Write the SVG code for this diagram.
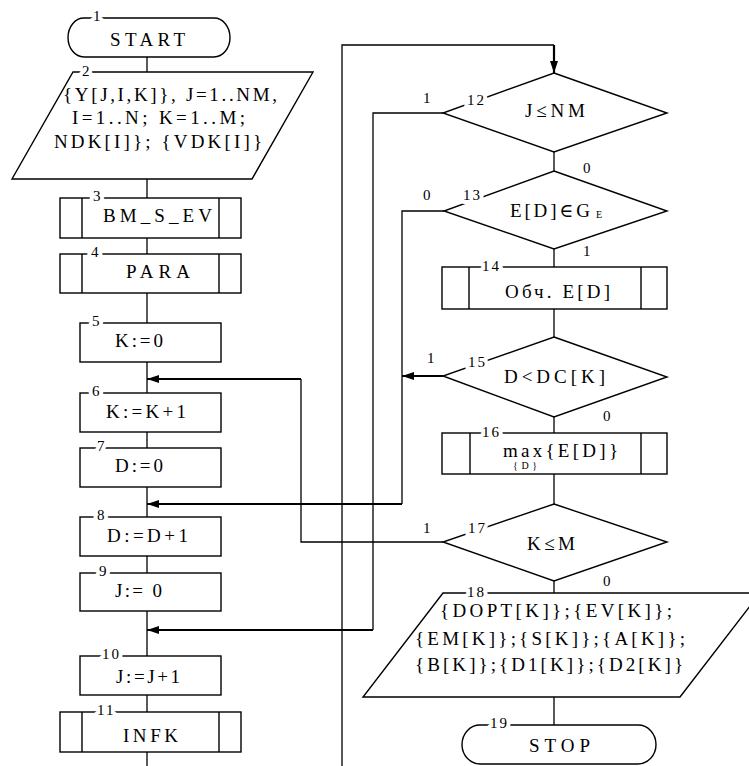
<svg xmlns="http://www.w3.org/2000/svg" width="749" height="766" viewBox="0 0 749 766" font-family="'Liberation Serif', 'Times New Roman', 'DejaVu Serif', serif">
<defs>
<marker id="ah" markerUnits="userSpaceOnUse" markerWidth="14" markerHeight="10" refX="12" refY="4" orient="auto"><path d="M0,0 L12,4 L0,8 Z" fill="#000"/></marker>
<style>
.s{fill:#fff;stroke:#000;stroke-width:1.4}
.l{fill:none;stroke:#000;stroke-width:1.4}
.t{font-family:'Liberation Serif','Times New Roman','DejaVu Serif',serif;font-size:19px;fill:#000}
.sm{font-family:'Liberation Serif','Times New Roman','DejaVu Serif',serif;font-size:10px;fill:#000}
.n{font-family:'Liberation Serif','Times New Roman','DejaVu Serif',serif;font-size:15px;fill:#000;stroke:#fff;stroke-width:8px;paint-order:stroke;stroke-linejoin:round;letter-spacing:2px}
.b{font-family:'Liberation Serif','Times New Roman','DejaVu Serif',serif;font-size:15px;fill:#000}
.c{fill:none;stroke:#000;stroke-width:1.3}
.a{fill:none;stroke:#000;stroke-width:2.2;marker-end:url(#ah)}
</style>
</defs>
<rect width="749" height="766" fill="#fff"/>
<g id="connectors">
<path class="c" d="M147,57 V766"/>
<path class="c" d="M554,152 V725"/>
<path class="c" d="M342,766 V45 H554"/>
<path class="a" d="M554,45 V73"/>
<path class="c" d="M443,113 H373 V630"/>
<path class="a" d="M373,630 H147"/>
<path class="c" d="M444,211 H402 V504"/>
<path class="a" d="M402,504 H147"/>
<path class="a" d="M443,376 H402"/>
<path class="c" d="M443,542 H301 V379"/>
<path class="a" d="M301,379 H147"/>
<text class="b" x="423" y="103">1</text>
<text class="b" x="583" y="173">0</text>
<text class="b" x="423" y="200">0</text>
<text class="b" x="583" y="256">1</text>
<text class="b" x="427" y="363">1</text>
<text class="b" x="603" y="421">0</text>
<text class="b" x="423" y="533">1</text>
<text class="b" x="603" y="586">0</text>
</g>
<g id="n1">
<rect class="s" x="68" y="18" width="162" height="39" rx="16" ry="19.5"/>
<text class="n" x="93" y="21">1</text>
<text class="t" x="110" y="46" textLength="75" lengthAdjust="spacing">START</text>
</g>
<g id="n2">
<path class="s" d="M73,72 H313 L252,179 H12 Z"/>
<text class="n" x="82" y="76">2</text>
<text class="t" x="63" y="101" textLength="214" lengthAdjust="spacing">{Y[J,I,K]}, J=1..NM,</text>
<text class="t" x="72" y="124" textLength="173" lengthAdjust="spacing">I=1..N; K=1..M;</text>
<text class="t" x="54" y="148" textLength="208" lengthAdjust="spacing">NDK[I]}; {VDK[I]}</text>
</g>
<g id="n3">
<rect class="s" x="60" y="198" width="181" height="40"/>
<path class="l" d="M82,198 V238 M219,198 V238"/>
<text class="n" x="93" y="201">3</text>
<text class="t" x="103" y="222" textLength="109" lengthAdjust="spacing">BM_S_EV</text>
</g>
<g id="n4">
<rect class="s" x="60" y="254" width="181" height="39"/>
<path class="l" d="M82,254 V293 M219,254 V293"/>
<text class="n" x="91" y="257">4</text>
<text class="t" x="126" y="278" textLength="64" lengthAdjust="spacing">PARA</text>
</g>
<g id="n5">
<rect class="s" x="80" y="323" width="141" height="39"/>
<text class="n" x="92" y="326">5</text>
<text class="t" x="115" y="347" textLength="48" lengthAdjust="spacing">K:=0</text>
</g>
<g id="n6">
<rect class="s" x="80" y="393" width="141" height="39"/>
<text class="n" x="92" y="396">6</text>
<text class="t" x="106" y="418" textLength="80" lengthAdjust="spacing">K:=K+1</text>
</g>
<g id="n7">
<rect class="s" x="80" y="448" width="141" height="39"/>
<text class="n" x="97" y="451">7</text>
<text class="t" x="115" y="472" textLength="48" lengthAdjust="spacing">D:=0</text>
</g>
<g id="n8">
<rect class="s" x="80" y="517" width="141" height="39"/>
<text class="n" x="97" y="520">8</text>
<text class="t" x="107" y="542" textLength="81" lengthAdjust="spacing">D:=D+1</text>
</g>
<g id="n9">
<rect class="s" x="80" y="573" width="141" height="38"/>
<text class="n" x="99" y="576">9</text>
<text class="t" x="115" y="597" textLength="47" lengthAdjust="spacing">J:= 0</text>
</g>
<g id="n10">
<rect class="s" x="80" y="656" width="141" height="39"/>
<text class="n" x="102" y="659">10</text>
<text class="t" x="116" y="683" textLength="64" lengthAdjust="spacing">J:=J+1</text>
</g>
<g id="n11">
<rect class="s" x="60" y="712" width="181" height="40"/>
<path class="l" d="M82,712 V752 M219,712 V752"/>
<text class="n" x="97" y="715">11</text>
<text class="t" x="123" y="742" textLength="55" lengthAdjust="spacing">INFK</text>
</g>
<g id="n12">
<path class="s" d="M554,73 L667,113 L554,152 L443,113 Z"/>
<text class="n" x="467" y="105">12</text>
<text class="t" x="525" y="117" textLength="60" lengthAdjust="spacing">J≤NM</text>
</g>
<g id="n13">
<path class="s" d="M554,171 L667,211 L554,249 L444,211 Z"/>
<text class="n" x="463" y="200">13</text>
<text class="t" x="510" y="217" textLength="80" lengthAdjust="spacing">E[D]∈G</text>
<text class="sm" x="596" y="218">E</text>
</g>
<g id="n14">
<rect class="s" x="442" y="267" width="225" height="42"/>
<path class="l" d="M469,267 V309 M641,267 V309"/>
<text class="n" x="482" y="271">14</text>
<text class="t" x="505" y="298" textLength="105" lengthAdjust="spacing">Обч. E[D]</text>
</g>
<g id="n15">
<path class="s" d="M554,337 L667,377 L554,417 L443,376 Z"/>
<text class="n" x="468" y="367">15</text>
<text class="t" x="504" y="383" textLength="101" lengthAdjust="spacing">D&lt;DC[K]</text>
</g>
<g id="n16">
<rect class="s" x="442" y="433" width="225" height="41"/>
<path class="l" d="M470,433 V474 M641,433 V474"/>
<text class="n" x="482" y="437">16</text>
<text class="t" x="503" y="457" textLength="115" lengthAdjust="spacing">max{E[D]}</text>
<text class="sm" x="513" y="469" textLength="24" lengthAdjust="spacing">{D}</text>
</g>
<g id="n17">
<path class="s" d="M554,504 L667,542 L554,581 L443,542 Z"/>
<text class="n" x="468" y="533">17</text>
<text class="t" x="527" y="550" textLength="48" lengthAdjust="spacing">K≤M</text>
</g>
<g id="n18">
<path class="s" d="M443,593 H760 L680,697 H363 Z"/>
<text class="n" x="467" y="597">18</text>
<text class="t" x="440" y="617" textLength="232" lengthAdjust="spacing">{DOPT[K]};{EV[K]};</text>
<text class="t" x="415" y="645" textLength="270" lengthAdjust="spacing">{EM[K]};{S[K]};{A[K]};</text>
<text class="t" x="415" y="671" textLength="268" lengthAdjust="spacing">{B[K]};{D1[K]};{D2[K]}</text>
</g>
<g id="n19">
<rect class="s" x="462" y="725" width="194" height="39" rx="18" ry="19.5"/>
<text class="n" x="490" y="728">19</text>
<text class="t" x="529" y="752" textLength="61" lengthAdjust="spacing">STOP</text>
</g>
</svg>
